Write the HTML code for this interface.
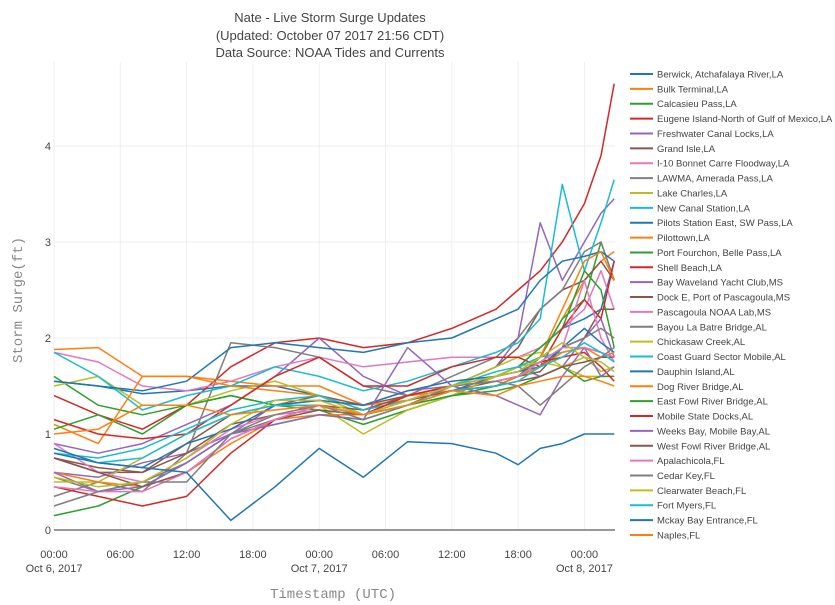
<!DOCTYPE html>
<html><head><meta charset="utf-8"><style>
body{margin:0;background:#fff;}
svg{display:block;font-family:"Liberation Sans",sans-serif;}
</style></head><body>
<svg id="chart" width="835" height="605" viewBox="0 0 835 605" xmlns="http://www.w3.org/2000/svg">
<g font-size="13" fill="#444" text-anchor="middle">
<text x="330" y="22">Nate - Live Storm Surge Updates</text>
<text x="330" y="40">(Updated: October 07 2017 21:56 CDT)</text>
<text x="330" y="57">Data Source: NOAA Tides and Currents</text>
</g>
<g id="grid"></g>
<g id="axes"></g>
<g id="series"></g>
<g id="legend"></g>
<text transform="translate(22,300) rotate(-90)" text-anchor="middle" font-family="Liberation Mono, monospace" font-size="14" fill="#888">Storm Surge(ft)</text>
<text x="333" y="598" text-anchor="middle" font-family="Liberation Mono, monospace" font-size="14" fill="#888">Timestamp (UTC)</text>
</svg>
<script>
const times = [0,4,8,12,16,20,24,28,32,36,40,42,44,46,48,49.5,50.7];
const names = ["Berwick, Atchafalaya River,LA","Bulk Terminal,LA","Calcasieu Pass,LA","Eugene Island-North of Gulf of Mexico,LA","Freshwater Canal Locks,LA","Grand Isle,LA","I-10 Bonnet Carre Floodway,LA","LAWMA, Amerada Pass,LA","Lake Charles,LA","New Canal Station,LA","Pilots Station East, SW Pass,LA","Pilottown,LA","Port Fourchon, Belle Pass,LA","Shell Beach,LA","Bay Waveland Yacht Club,MS","Dock E, Port of Pascagoula,MS","Pascagoula NOAA Lab,MS","Bayou La Batre Bridge,AL","Chickasaw Creek,AL","Coast Guard Sector Mobile,AL","Dauphin Island,AL","Dog River Bridge,AL","East Fowl River Bridge,AL","Mobile State Docks,AL","Weeks Bay, Mobile Bay,AL","West Fowl River Bridge,AL","Apalachicola,FL","Cedar Key,FL","Clearwater Beach,FL","Fort Myers,FL","Mckay Bay Entrance,FL","Naples,FL"];
const s0 = [1.55,1.5,1.42,1.45,1.5,1.5,1.4,1.2,1.3,1.45,1.6,1.7,1.9,2.1,2.2,2.3,2.8];
const s1 = [1.88,1.9,1.6,1.6,1.55,1.5,1.5,1.3,1.35,1.45,1.5,1.6,1.8,2.2,2.6,2.8,2.9];
const s2 = [1.6,1.3,1.2,1.3,1.4,1.3,1.25,1.1,1.25,1.4,1.5,1.6,1.8,2.2,2.4,3.0,2.6];
const s3 = [1.4,1.2,1.05,1.3,1.7,1.95,2.0,1.9,1.95,2.1,2.3,2.5,2.7,3.0,3.4,3.9,4.65];
const s4 = [0.9,0.8,0.9,1.1,1.3,1.6,2.0,1.6,1.4,1.5,1.7,2.0,3.2,2.6,3.0,3.3,3.45];
const s5 = [0.75,0.6,0.6,0.9,1.2,1.3,1.4,1.3,1.4,1.5,1.7,1.9,2.3,2.5,2.6,2.8,2.6];
const s6 = [1.85,1.75,1.5,1.45,1.55,1.7,1.8,1.7,1.75,1.8,1.8,1.8,1.9,2.1,2.3,2.7,2.3];
const s7 = [0.35,0.5,0.4,0.8,1.95,1.9,1.8,1.5,1.4,1.6,1.8,2.0,2.3,2.5,2.9,3.0,2.6];
const s8 = [1.5,1.6,1.3,1.3,1.45,1.55,1.4,1.2,1.3,1.5,1.7,1.8,1.85,1.7,1.6,1.6,1.6];
const s9 = [1.85,1.6,1.25,1.4,1.5,1.7,1.6,1.45,1.55,1.7,1.85,1.95,2.2,3.6,2.7,3.2,3.65];
const s10 = [1.55,1.5,1.45,1.55,1.9,1.95,1.9,1.85,1.95,2.0,2.2,2.3,2.6,2.8,2.85,2.9,2.8];
const s11 = [1.1,0.9,1.6,1.6,1.5,1.45,1.4,1.25,1.4,1.5,1.6,1.7,1.8,2.3,2.8,2.9,2.6];
const s12 = [1.05,1.2,1.0,1.3,1.4,1.3,1.3,1.2,1.3,1.4,1.6,1.7,1.9,2.1,2.7,2.5,1.9];
const s13 = [1.15,1.0,0.95,1.0,1.3,1.6,1.8,1.5,1.5,1.7,1.8,1.8,1.7,2.1,2.4,2.2,2.8];
const s14 = [0.6,0.55,0.7,0.8,1.0,1.3,1.35,1.3,1.45,1.5,1.6,1.7,1.6,1.7,2.0,2.2,1.8];
const s15 = [0.75,0.65,0.6,0.8,1.1,1.2,1.3,1.25,1.4,1.45,1.55,1.6,1.65,1.9,2.0,2.3,2.3];
const s16 = [0.9,0.6,0.5,0.75,1.05,1.2,1.25,1.2,1.4,1.5,1.55,1.6,1.7,1.9,2.6,2.0,1.75];
const s17 = [0.55,0.4,0.5,0.7,1.0,1.15,1.3,1.2,1.35,1.5,1.6,1.65,1.75,1.9,2.0,2.1,2.0];
const s18 = [0.5,0.5,0.75,1.0,1.2,1.3,1.3,1.0,1.25,1.4,1.6,1.7,1.75,1.7,1.8,1.65,1.7];
const s19 = [0.8,0.75,0.85,1.05,1.25,1.35,1.4,1.25,1.35,1.5,1.65,1.7,1.8,1.85,1.9,1.85,1.8];
const s20 = [0.85,0.7,0.65,0.9,1.05,1.3,1.35,1.3,1.45,1.55,1.6,1.65,1.7,1.9,2.1,1.95,1.85];
const s21 = [0.6,0.5,0.45,0.6,0.9,1.15,1.2,1.2,1.4,1.45,1.5,1.6,1.7,1.85,1.9,1.8,1.85];
const s22 = [0.15,0.25,0.45,0.7,1.0,1.1,1.2,1.15,1.3,1.4,1.45,1.5,1.6,1.7,1.55,1.6,1.6];
const s23 = [0.45,0.35,0.25,0.35,0.8,1.15,1.3,1.2,1.4,1.5,1.55,1.6,1.75,1.8,1.85,1.7,1.55];
const s24 = [0.6,0.4,0.45,0.7,1.0,1.1,1.2,1.15,1.9,1.5,1.4,1.3,1.2,1.6,1.9,1.6,1.7];
const s25 = [0.75,0.6,0.45,0.6,0.95,1.15,1.25,1.2,1.35,1.45,1.5,1.55,1.6,1.7,1.75,1.8,1.8];
const s26 = [0.45,0.4,0.4,0.6,0.95,1.15,1.3,1.2,1.35,1.5,1.55,1.6,1.75,1.9,1.9,1.85,1.8];
const s27 = [0.25,0.4,0.5,0.5,1.0,1.2,1.3,1.15,1.3,1.5,1.55,1.5,1.3,1.5,1.7,1.8,1.9];
const s28 = [0.55,0.45,0.5,0.75,1.1,1.35,1.35,1.2,1.35,1.5,1.6,1.65,1.8,1.95,1.8,1.75,1.65];
const s29 = [0.8,0.7,0.75,1.0,1.2,1.3,1.3,1.2,1.3,1.45,1.5,1.55,1.7,1.8,1.95,1.85,1.75];
const s30 = [0.8,0.7,0.65,0.6,0.1,0.45,0.85,0.55,0.92,0.9,0.8,0.68,0.85,0.9,1.0,1.0,1.0];
const s31 = [1.0,1.05,1.3,1.3,1.2,1.25,1.3,1.2,1.3,1.45,1.4,1.5,1.55,1.6,1.6,1.55,1.5];
const seriesValues = [s0,s1,s2,s3,s4,s5,s6,s7,s8,s9,s10,s11,s12,s13,s14,s15,s16,s17,s18,s19,s20,s21,s22,s23,s24,s25,s26,s27,s28,s29,s30,s31];
const yTicks = [0,1,2,3,4];
const xTickHours = [0,6,12,18,24,30,36,42,48];
const xTickLabels = ["00:00","06:00","12:00","18:00","00:00","06:00","12:00","18:00","00:00"];
const xTickDates = ["Oct 6, 2017","","","","Oct 7, 2017","","","","Oct 8, 2017"];

const palette = ["#1f77b4","#ff7f0e","#2ca02c","#d62728","#9467bd","#8c564b","#e377c2","#7f7f7f","#bcbd22","#17becf"];
const NS = "http://www.w3.org/2000/svg";
const PL = 54, PR = 615, PT = 62, PB = 530;
function xs(h){ return PL + h * 11.05; }
function ys(v){ return PB - v * 96; }
function mk(tag, attrs, parent){ const e=document.createElementNS(NS,tag); for(const k in attrs) e.setAttribute(k,attrs[k]); parent.appendChild(e); return e; }

const grid = document.getElementById('grid');
const axes = document.getElementById('axes');
xTickHours.forEach((h,i)=>{
  const g = mk('line',{x1:xs(h),x2:xs(h),y1:PT,y2:PB,stroke:'#eee','stroke-width':1},grid);
  
  
  const t = mk('text',{x:xs(h),y:558,'text-anchor':'middle','font-size':11,fill:'#444'},axes);
  t.textContent = xTickLabels[i];
  
  
  if(xTickDates[i]){
    const d = mk('text',{x:xs(h),y:572,'text-anchor':'middle','font-size':11,fill:'#444'},axes);
    d.textContent = xTickDates[i];
    
    
  }
});
yTicks.forEach(v=>{
  if(v>0){
    const g = mk('line',{x1:PL,x2:PR,y1:ys(v),y2:ys(v),stroke:'#eee','stroke-width':1},grid);
    
    
  }
  const t = mk('text',{x:PL-3,y:ys(v)+4,'text-anchor':'end','font-size':11,fill:'#444'},axes);
  t.textContent = v;
  
  
});
const zl = mk('line',{x1:PL,x2:PR,y1:ys(0),y2:ys(0),stroke:'#999','stroke-width':2},axes);



const sg = document.getElementById('series');
const lg = document.getElementById('legend');
seriesValues.forEach((vals,i)=>{
  const col = palette[i%10];
  const d = vals.map((v,j)=>(j?'L':'M')+xs(times[j]).toFixed(1)+','+ys(v).toFixed(1)).join(' ');
  const p = mk('path',{d:d,fill:'none',stroke:col,'stroke-width':1.5,'stroke-linejoin':'round'},sg);
  
  
  const y = 74 + i*14.87;
  const item = mk('g',{},lg);
  
  
  mk('line',{x1:630,x2:653,y1:y,y2:y,stroke:col,'stroke-width':2},item);
  const t = mk('text',{x:657,y:y+3.5,'font-size':9.5,fill:'#444'},item);
  t.textContent = names[i];
});
</script>
</body></html>
